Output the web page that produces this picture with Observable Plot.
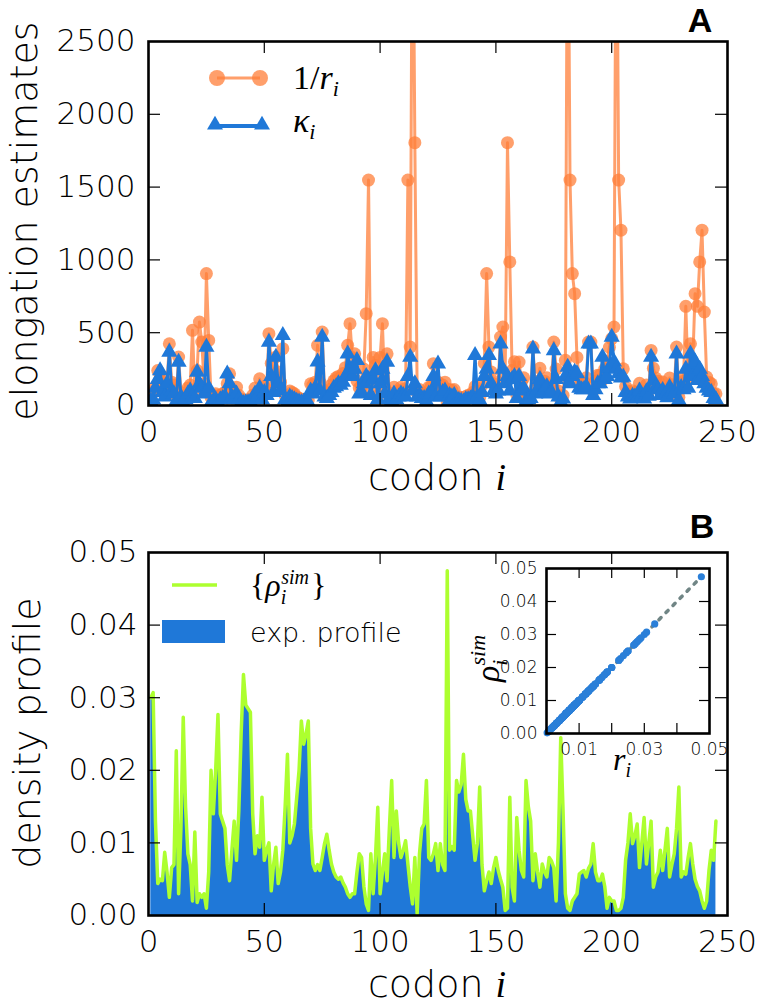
<!DOCTYPE html>
<html><head><meta charset="utf-8">
<script src="https://cdn.jsdelivr.net/npm/d3@7"></script>
<script src="https://cdn.jsdelivr.net/npm/@observablehq/plot@0.6"></script>
<style>
body{margin:0;background:#fff;}
#wrap{position:relative;width:759px;height:1006px;overflow:hidden;}
#wrap svg{position:absolute;overflow:visible;}
</style></head><body><div id="wrap"></div>
<script>
// ---------- data ----------
const xTicks = [0, 50, 100, 150, 200, 250];
const yTicksA = [0, 500, 1000, 1500, 2000, 2500];
const yTicksB = [0, 0.01, 0.02, 0.03, 0.04, 0.05];
const insetXTicks = [0.01, 0.03, 0.05];
const insetYTicks = [0, 0.01, 0.02, 0.03, 0.04, 0.05];

// 1/r_i per codon (1..245)
const invR = [
 60, 90, 126, 240, 180, 200, 110, 150, 424, 160,
 140, 60, 333, 90, 45, 70, 120, 140, 516, 90,
 240, 573, 436, 150, 906, 447, 57, 70, 80, 50,
 70, 80, 90, 150, 218, 110, 80, 126, 70, 45,
 35, 35, 40, 40, 70, 120, 90, 183, 60, 130,
 110, 493, 290, 140, 333, 230, 160, 390, 70, 45,
 100, 90, 80, 60, 50, 40, 42, 40, 38, 149,
 140, 160, 413, 160, 505, 100, 90, 110, 140, 170,
 190, 200, 190, 220, 260, 413, 562, 330, 355, 170,
 120, 125, 250, 631, 1548, 120, 330, 275, 67, 330,
 562, 120, 355, 85, 55, 125, 70, 100, 125, 110,
 97, 1548, 401, 4000, 1805, 90, 110, 85, 80, 55,
 125, 130, 287, 100, 160, 100, 140, 160, 21, 110,
 105, 110, 55, 60, 55, 45, 62, 70, 70, 90,
 130, 100, 56, 140, 290, 906, 401, 230, 150, 125,
 160, 470, 539, 200, 1805, 986, 240, 300, 75, 298,
 160, 190, 55, 67, 77, 401, 118, 167, 256, 140,
 167, 190, 125, 133, 436, 250, 100, 41, 69, 310,
 4000, 1548, 906, 768, 330, 175, 167, 161, 190, 436,
 436, 101, 167, 208, 208, 175, 250, 300, 400, 459,
 539, 4000, 1548, 1204, 252, 130, 100, 71, 101, 91,
 79, 152, 100, 74, 141, 100, 378, 256, 189, 167,
 111, 161, 111, 83, 189, 143, 118, 401, 56, 189,
 167, 681, 175, 424, 300, 768, 681, 986, 1204, 642,
 195, 160, 149, 80, 80
];

// kappa_i per codon
const kappa = [
 30, 40, 120, 180, 240, 90, 60, 150, 367, 100,
 80, 30, 298, 60, 20, 40, 80, 100, 60, 50,
 229, 150, 120, 80, 401, 120, 20, 30, 40, 20,
 40, 50, 60, 218, 150, 60, 40, 80, 40, 20,
 15, 20, 20, 25, 40, 80, 60, 120, 40, 90,
 70, 436, 200, 90, 333, 150, 100, 482, 40, 20,
 60, 50, 40, 30, 25, 20, 25, 20, 20, 100,
 80, 120, 300, 100, 470, 60, 50, 70, 90, 120,
 130, 150, 140, 160, 200, 355, 250, 200, 250, 310,
 80, 90, 150, 200, 180, 70, 180, 240, 40, 150,
 250, 80, 298, 50, 30, 80, 40, 60, 80, 70,
 60, 200, 333, 100, 150, 60, 70, 50, 50, 30,
 80, 90, 200, 60, 287, 60, 90, 100, 10, 70,
 60, 70, 30, 35, 30, 25, 40, 40, 45, 60,
 344, 60, 35, 90, 200, 250, 344, 150, 100, 80,
 100, 424, 250, 150, 200, 100, 180, 200, 50, 200,
 100, 120, 30, 40, 50, 390, 80, 110, 180, 90,
 110, 130, 80, 90, 378, 180, 60, 25, 45, 200,
 264, 150, 200, 230, 220, 120, 110, 110, 130, 424,
 424, 70, 110, 150, 150, 333, 180, 200, 260, 470,
 300, 250, 220, 190, 195, 90, 60, 45, 65, 60,
 50, 100, 65, 45, 95, 65, 333, 170, 125, 110,
 70, 105, 70, 55, 125, 95, 80, 355, 35, 125,
 110, 250, 120, 355, 200, 300, 172, 250, 200, 150,
 120, 100, 90, 50, 40
];

// experimental density profile r_i per codon
const expProfile = [
 0.0300, 0.0307, 0.0130, 0.0044, 0.0050, 0.0048, 0.0087, 0.0060, 0.0025, 0.0066,
 0.0070, 0.0227, 0.0030, 0.0120, 0.0273, 0.0150, 0.0085, 0.0070, 0.0020, 0.0115,
 0.0018, 0.0030, 0.0025, 0.0030, 0.0010, 0.0060, 0.0200, 0.0140, 0.0200, 0.0277,
 0.0140, 0.0130, 0.0120, 0.0070, 0.0048, 0.0090, 0.0130, 0.0076, 0.0144, 0.0250,
 0.0332, 0.0290, 0.0285, 0.0280, 0.0140, 0.0085, 0.0110, 0.0094, 0.0163, 0.0076,
 0.0090, 0.0100, 0.0034, 0.0070, 0.0094, 0.0044, 0.0060, 0.0090, 0.0150, 0.0222,
 0.0100, 0.0110, 0.0126, 0.0163, 0.0200, 0.0268, 0.0236, 0.0250, 0.0268, 0.0120,
 0.0071, 0.0062, 0.0070, 0.0062, 0.0080, 0.0099, 0.0112, 0.0090, 0.0071, 0.0060,
 0.0053, 0.0050, 0.0053, 0.0045, 0.0039, 0.0030, 0.0025, 0.0030, 0.0030, 0.0060,
 0.0085, 0.0080, 0.0040, 0.0016, 0.0007, 0.0085, 0.0030, 0.0080, 0.0149, 0.0030,
 0.0060, 0.0085, 0.0048, 0.0120, 0.0186, 0.0080, 0.0144, 0.0100, 0.0080, 0.0090,
 0.0103, 0.0071, 0.0040, 0.0016, 0.0080, 0.0002, 0.0085, 0.0120, 0.0126, 0.0186,
 0.0080, 0.0076, 0.0085, 0.0099, 0.0062, 0.0099, 0.0070, 0.0062, 0.0475, 0.0090,
 0.0095, 0.0090, 0.0186, 0.0170, 0.0180, 0.0222, 0.0160, 0.0144, 0.0144, 0.0110,
 0.0076, 0.0099, 0.0177, 0.0070, 0.0034, 0.0048, 0.0060, 0.0044, 0.0066, 0.0080,
 0.0062, 0.0050, 0.0039, 0.0007, 0.0010, 0.0163, 0.0039, 0.0020, 0.0135, 0.0090,
 0.0062, 0.0053, 0.0186, 0.0150, 0.0130, 0.0048, 0.0085, 0.0060, 0.0039, 0.0071,
 0.0060, 0.0053, 0.0080, 0.0075, 0.0066, 0.0020, 0.0100, 0.0245, 0.0144, 0.0030,
 0.0010, 0.0007, 0.0020, 0.0025, 0.0030, 0.0057, 0.0060, 0.0062, 0.0053, 0.0065,
 0.0071, 0.0099, 0.0060, 0.0048, 0.0048, 0.0057, 0.0040, 0.0010, 0.0025, 0.0020,
 0.0020, 0.0007, 0.0007, 0.0010, 0.0025, 0.0076, 0.0100, 0.0140, 0.0099, 0.0110,
 0.0126, 0.0066, 0.0100, 0.0135, 0.0071, 0.0100, 0.0130, 0.0039, 0.0053, 0.0060,
 0.0090, 0.0062, 0.0090, 0.0120, 0.0053, 0.0070, 0.0085, 0.0120, 0.0177, 0.0053,
 0.0060, 0.0057, 0.0080, 0.0099, 0.0071, 0.0050, 0.0040, 0.0034, 0.0020, 0.0010,
 0.0020, 0.0062, 0.0090, 0.0076, 0.0130
];
// simulated density (coincides with the experimental profile)
const simProfile = expProfile.slice();

const codons = d3.range(1, expProfile.length + 1);
const rowsA = codons.map((c, i) => ({c, invR: invR[i], kappa: kappa[i]}));
const rowsB = codons.map((c, i) => ({c, exp: expProfile[i], sim: simProfile[i]}));

// ---------- styles ----------
const ORANGE = "#ff7f3a", BLUE = "#1f78d8", GREEN = "#adff2f", GRAY = "#708585";
const SANS = "DejaVu Sans", SERIF = "Liberation Serif";
const wrap = document.getElementById("wrap");

function place(svg, left, top) {
  svg.style.left = left + "px"; svg.style.top = top + "px";
  wrap.appendChild(svg); return svg;
}
function txt(svg, x, y, spans, o = {}) {
  const t = d3.select(svg).append("text").attr("x", x).attr("y", y)
    .attr("font-size", o.size || 30).attr("font-family", o.family || SANS)
    .attr("font-weight", o.weight || 300).attr("text-anchor", o.anchor || "start").attr("fill", "black");
  if (o.rotate) t.attr("transform", `rotate(${o.rotate},${x},${y})`);
  for (const s of spans) {
    const ts = t.append("tspan").text(s.t);
    if (s.style) ts.attr("font-style", s.style);
    if (s.size) ts.attr("font-size", s.size);
    if (s.family) ts.attr("font-family", s.family);
    if (s.weight) ts.attr("font-weight", s.weight);
    if (s.dy != null) ts.attr("dy", s.dy);
    if (s.dx != null) ts.attr("dx", s.dx);
  }
  return t;
}
// inward tick marks on all four sides
function inTicks(xv, yv, W, H, len, sw) {
  return [
    Plot.tickX(xv, {x: d => d, insetTop: H - len, strokeWidth: sw}),
    Plot.tickX(xv, {x: d => d, insetBottom: H - len, strokeWidth: sw}),
    Plot.tickY(yv, {y: d => d, insetRight: W - len, strokeWidth: sw}),
    Plot.tickY(yv, {y: d => d, insetLeft: W - len, strokeWidth: sw})
  ];
}

// ---------- panel A ----------
const A_W = 759, A_H = 500, A_ML = 148, A_MR = 32, A_MT = 41, A_MB = 95;
const aW = A_W - A_ML - A_MR, aH = A_H - A_MT - A_MB;
const svgA = Plot.plot({
  width: A_W, height: A_H, marginLeft: A_ML, marginRight: A_MR, marginTop: A_MT, marginBottom: A_MB,
  style: {fontFamily: SANS, fontWeight: 300, background: "transparent", color: "black"},
  x: {domain: [0, 250]}, y: {domain: [0, 2500]},
  marks: [
    Plot.line(rowsA, {x: "c", y: "invR", stroke: ORANGE, strokeWidth: 3, strokeOpacity: 0.75, clip: true}),
    Plot.dot(rowsA, {x: "c", y: "invR", r: 6.5, fill: ORANGE, fillOpacity: 0.75, clip: true}),
    Plot.line(rowsA, {x: "c", y: "kappa", stroke: BLUE, strokeWidth: 3, clip: true}),
    Plot.dot(rowsA, {x: "c", y: "kappa", symbol: "triangle", r: 6, fill: BLUE, clip: true}),
    ...inTicks([50, 100, 150, 200], [500, 1000, 1500, 2000], aW, aH, 12, 1.2),
    Plot.frame({stroke: "black", strokeWidth: 2.6}),
    Plot.axisX(xTicks, {tickSize: 0, tickPadding: 14, fontSize: 31, label: null, tickFormat: d3.format("d")}),
    Plot.axisY(yTicksA, {tickSize: 0, tickPadding: 13, fontSize: 31, label: null, tickFormat: d3.format("d")})
  ]
});
place(svgA, 0, 0);
txt(svgA, 437, 490, [{t: "codon "}, {t: "i", style: "italic", family: SERIF, weight: "normal"}], {size: 38, anchor: "middle"});
txt(svgA, 37, 221, [{t: "elongation estimates"}], {size: 38, anchor: "middle", rotate: -90});
txt(svgA, 700, 32, [{t: "A"}], {size: 34, anchor: "middle", weight: "bold", family: "Liberation Sans"});
// legend A
{
  const g = d3.select(svgA).append("g");
  g.append("line").attr("x1", 217).attr("x2", 260).attr("y1", 78).attr("y2", 78)
    .attr("stroke", ORANGE).attr("stroke-width", 3).attr("stroke-opacity", 0.75);
  for (const x of [217, 260]) g.append("circle").attr("cx", x).attr("cy", 78).attr("r", 8)
    .attr("fill", ORANGE).attr("fill-opacity", 0.75);
  g.append("line").attr("x1", 215).attr("x2", 262).attr("y1", 126).attr("y2", 126)
    .attr("stroke", BLUE).attr("stroke-width", 4);
  const tri = d3.symbol(d3.symbolTriangle, 110);
  for (const x of [215, 262]) g.append("path").attr("d", tri()).attr("transform", `translate(${x},125)`).attr("fill", BLUE);
  txt(svgA, 293, 89, [{t: "1/", style: "normal"}, {t: "r", style: "italic"},
    {t: "i", style: "italic", size: 22, dy: 7}], {size: 34, family: SERIF, weight: "normal"});
  txt(svgA, 293, 132, [{t: "κ", style: "italic"}, {t: "i", style: "italic", size: 22, dy: 7}], {size: 34, family: SERIF, weight: "normal"});
}

// ---------- panel B ----------
const B_W = 759, B_H = 506, B_ML = 148, B_MR = 32, B_MT = 52, B_MB = 91;
const bW = B_W - B_ML - B_MR, bH = B_H - B_MT - B_MB;
const svgB = Plot.plot({
  width: B_W, height: B_H, marginLeft: B_ML, marginRight: B_MR, marginTop: B_MT, marginBottom: B_MB,
  style: {fontFamily: SANS, fontWeight: 300, background: "transparent", color: "black"},
  x: {domain: [0, 250]}, y: {domain: [0, 0.05]},
  marks: [
    Plot.areaY(rowsB, {x: "c", y: "exp", fill: BLUE}),
    Plot.line(rowsB, {x: "c", y: "sim", stroke: GREEN, strokeWidth: 3.5}),
    ...inTicks([50, 100, 150, 200], [0.01, 0.02, 0.03, 0.04], bW, bH, 12, 1.2),
    Plot.frame({stroke: "black", strokeWidth: 2.6}),
    Plot.axisX(xTicks, {tickSize: 0, tickPadding: 14, fontSize: 31, label: null, tickFormat: d3.format("d")}),
    Plot.axisY(yTicksB, {tickSize: 0, tickPadding: 11, fontSize: 31, label: null, tickFormat: d3.format(".2f")})
  ]
});
place(svgB, 0, 500);
txt(svgB, 437, 497, [{t: "codon "}, {t: "i", style: "italic", family: SERIF, weight: "normal"}], {size: 38, anchor: "middle"});
txt(svgB, 40, 233, [{t: "density profile"}], {size: 38, anchor: "middle", rotate: -90});
txt(svgB, 702, 38, [{t: "B"}], {size: 34, anchor: "middle", weight: "bold", family: "Liberation Sans"});
// legend B
{
  const g = d3.select(svgB).append("g");
  g.append("line").attr("x1", 172).attr("x2", 217).attr("y1", 85).attr("y2", 85)
    .attr("stroke", GREEN).attr("stroke-width", 3.5);
  g.append("rect").attr("x", 162).attr("y", 120).attr("width", 63).attr("height", 23).attr("fill", BLUE);
  txt(svgB, 250, 96, [{t: "{", style: "normal"}, {t: "ρ", style: "italic"},
    {t: "i", style: "italic", size: 20, dy: 8}, {t: "sim", style: "italic", size: 20, dy: -20, dx: -5},
    {t: "}", style: "normal", dy: 12, dx: 2}], {size: 32, family: SERIF, weight: "normal"});
  txt(svgB, 250, 142, [{t: "exp. profile"}], {size: 27});
}

// ---------- inset ----------
const I_W = 250, I_H = 232, I_ML = 60, I_MR = 27, I_MT = 20, I_MB = 47;
const iW = I_W - I_ML - I_MR, iH = I_H - I_MT - I_MB;
const maxR = d3.max(expProfile);
const svgI = Plot.plot({
  width: I_W, height: I_H, marginLeft: I_ML, marginRight: I_MR, marginTop: I_MT, marginBottom: I_MB,
  style: {fontFamily: SANS, fontWeight: 300, background: "transparent", color: "black"},
  x: {domain: [0, 0.05]}, y: {domain: [0, 0.05]},
  marks: [
    Plot.frame({fill: "white", stroke: null}),
    Plot.line([[0, 0], [maxR, maxR]], {stroke: GRAY, strokeWidth: 3.5, strokeDasharray: "3,7"}),
    Plot.dot(rowsB, {x: "exp", y: "sim", r: 3.6, fill: "#2a7fd8"}),
    ...inTicks([0.01, 0.02, 0.03, 0.04], [0.01, 0.02, 0.03, 0.04], iW, iH, 10, 1.2),
    Plot.frame({stroke: "black", strokeWidth: 2.6}),
    Plot.axisX(insetXTicks, {tickSize: 0, tickPadding: 9, fontSize: 17, label: null, tickFormat: d3.format(".2f")}),
    Plot.axisY(insetYTicks, {tickSize: 0, tickPadding: 9, fontSize: 17, label: null, tickFormat: d3.format(".2f")})
  ]
});
place(svgI, 486, 548);
txt(svgI, 127, 222, [{t: "r", style: "italic"}, {t: "i", style: "italic", size: 20, dy: 7}], {size: 32, family: SERIF, weight: "normal"});
txt(svgI, 13, 134, [{t: "ρ", style: "italic"}, {t: "i", style: "italic", size: 22, dy: 8},
  {t: "sim", style: "italic", size: 22, dy: -22, dx: -6}], {size: 34, family: SERIF, weight: "normal", rotate: -90});
</script></body></html>
